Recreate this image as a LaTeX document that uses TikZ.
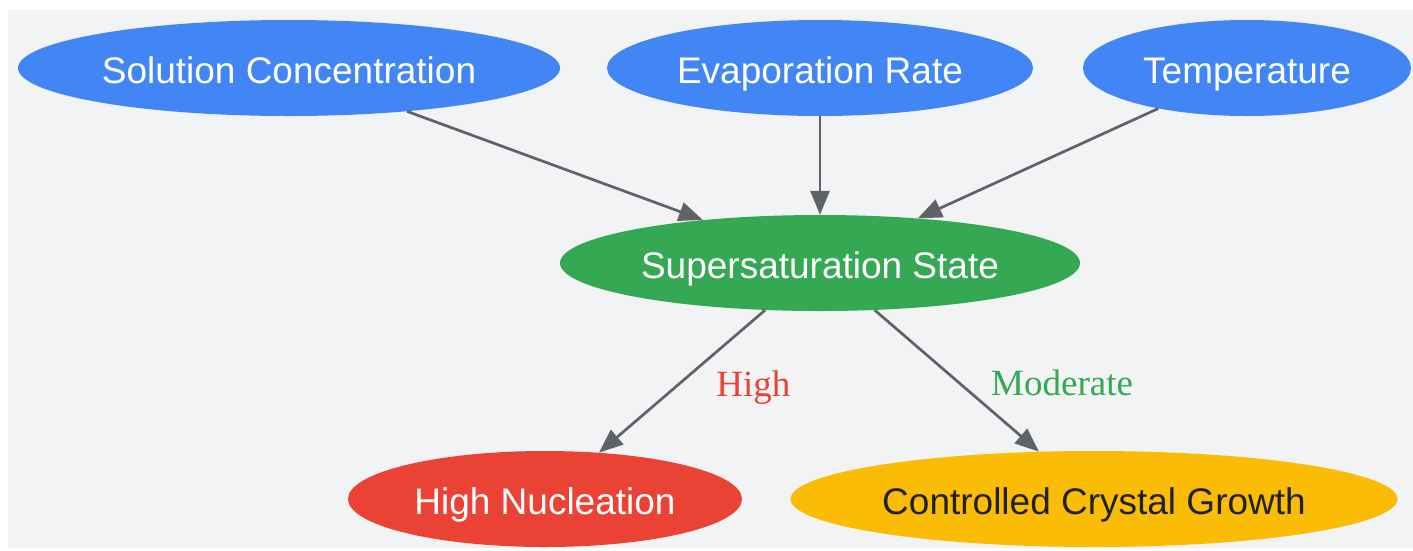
\documentclass[tikz,border=0pt]{standalone}
\usepackage{fontspec}
\setmainfont{Liberation Sans}
\newfontfamily\labelfont{Liberation Serif}
\usetikzlibrary{shapes.geometric, arrows.meta}

\definecolor{gblue}{HTML}{4285F4}
\definecolor{ggreen}{HTML}{34A853}
\definecolor{gred}{HTML}{EA4335}
\definecolor{gyellow}{HTML}{FBBC05}
\definecolor{ggray}{HTML}{5F6368}
\definecolor{gback}{HTML}{F1F3F4}
\definecolor{gdark}{HTML}{202124}

\begin{document}
\begin{tikzpicture}[x=1pt, y=-1pt]
    \tikzset{every ell/.style={ellipse, inner sep=0pt, minimum height=96pt, text=white,
        text height=30pt, text depth=0pt, font=\fontsize{37}{44}\selectfont}}
    \tikzset{ell/.style={every ell, fill=#1}}
    \tikzset{lbl/.style={font=\labelfont\fontsize{37}{44}\selectfont, inner sep=0pt,
        text height=30pt, text depth=0pt, right=33pt, midway}}
    \tikzset{link/.style={-{Triangle[length=24pt,width=19pt]}, color=ggray, line width=2.7pt}}

    \useasboundingbox (0,0) rectangle (1413,550);
    \fill[gback] (8,10) rectangle (1413,548);

    \node[ell=gblue, minimum width=542pt]   (n_conc)   at (289,68)   {Solution Concentration};
    \node[ell=gblue, minimum width=426pt]   (n_evap)   at (820,68)   {Evaporation Rate};
    \node[ell=gblue, minimum width=328pt]   (n_temp)   at (1247,68)  {Temperature};
    \node[ell=ggreen, minimum width=520pt]  (n_super)  at (820,263)  {Supersaturation State};
    \node[ell=gred, minimum width=394pt]    (n_nucl)   at (545,499)  {High Nucleation};
    \node[ell=gyellow, minimum width=607pt, text=gdark] (n_growth) at (1094,499) {Controlled Crystal Growth};

    \path[link]
    (n_conc) edge (n_super)
    (n_evap) edge (n_super)
    (n_temp) edge (n_super)
    (n_super) edge node[lbl, text=gred] {High} (n_nucl)
    (n_super) edge node[lbl, text=ggreen] {Moderate} (n_growth);
\end{tikzpicture}
\end{document}
